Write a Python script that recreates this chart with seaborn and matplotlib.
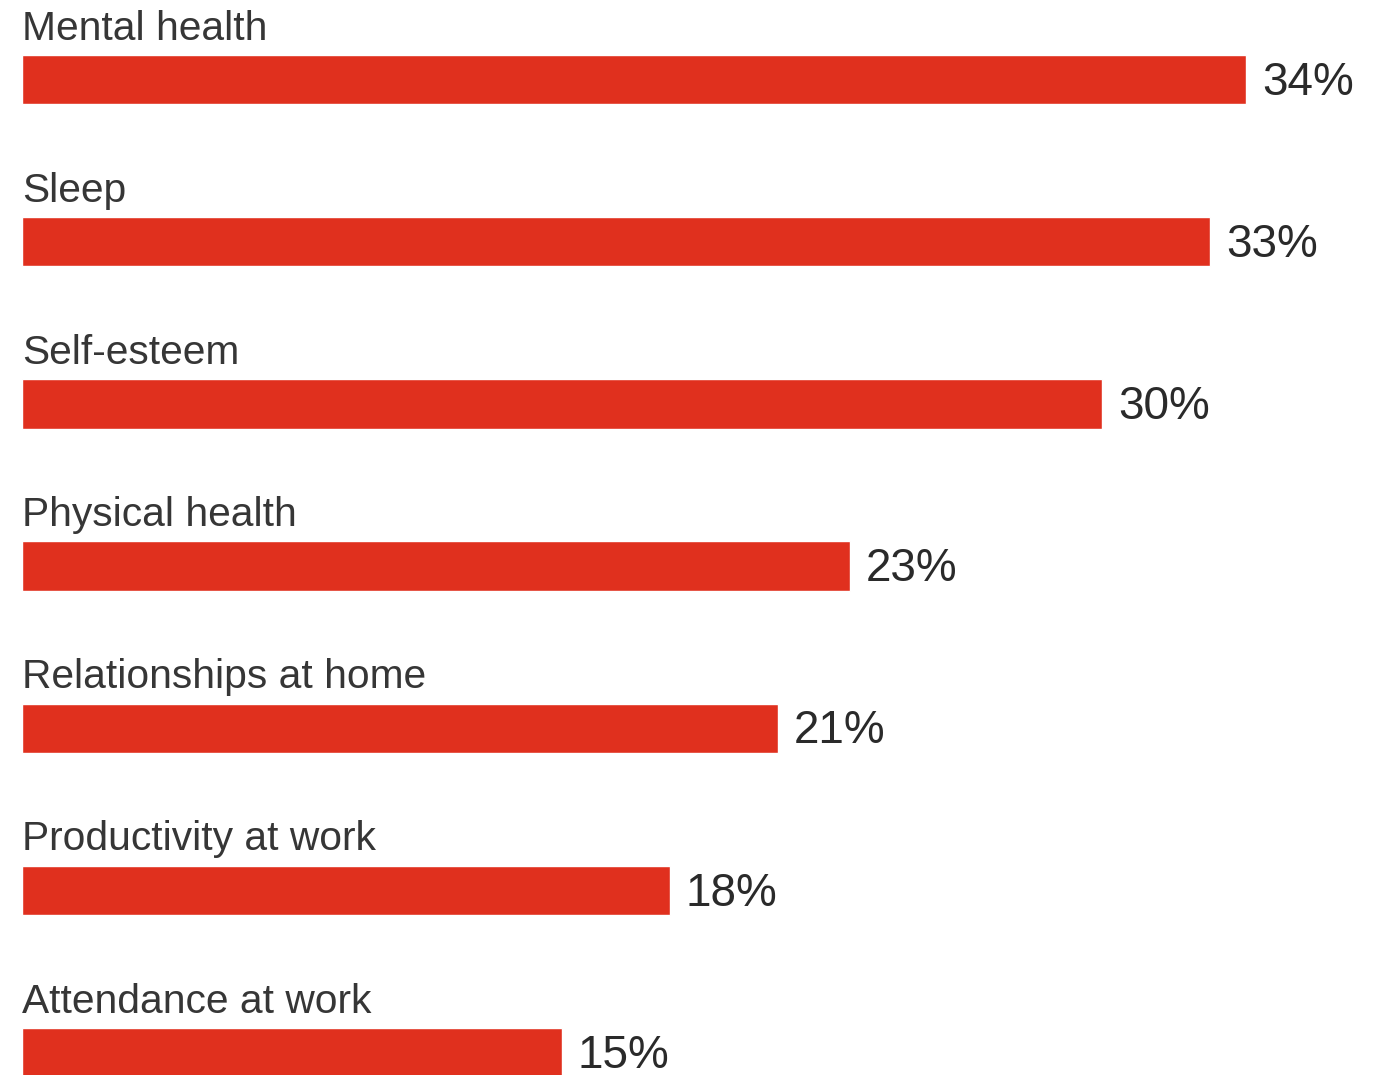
import matplotlib
matplotlib.use("Agg")
import matplotlib.pyplot as plt
import seaborn as sns
import pandas as pd

categories = ["Mental health", "Sleep", "Self-esteem", "Physical health",
              "Relationships at home", "Productivity at work", "Attendance at work"]
values = [34, 33, 30, 23, 21, 18, 15]
value_labels = ["34%", "33%", "30%", "23%", "21%", "18%", "15%"]

sns.set_theme(style="white")
plt.rcParams['font.family'] = ['Liberation Sans', 'DejaVu Sans']

df = pd.DataFrame({"category": categories, "value": values})

fig = plt.figure(figsize=(13.75, 10.75), dpi=100)
ax = fig.add_axes([0, 0, 1, 1])

sns.barplot(data=df, y="category", x="value", orient="h", color="#E0301E",
            width=0.305, saturation=1, ax=ax)

px_per_unit = 36.0
ax.set_xlim(-22 / px_per_unit, (1375 - 22) / px_per_unit)
row = 162.2
top_center = 79.5
ax.set_ylim((1075 - top_center) / row, -top_center / row)

for i, (cat, v, lab) in enumerate(zip(categories, values, value_labels)):
    ax.text(0, i - 40 / row, cat, ha="left", va="baseline", fontsize=29.3,
            color="#363636")
    ax.text(v + 16 / px_per_unit, i + 15 / row, lab, ha="left", va="baseline",
            fontsize=33, color="#2a2a2a")

ax.set_axis_off()
fig.savefig("out.png", dpi=100, facecolor="white")
